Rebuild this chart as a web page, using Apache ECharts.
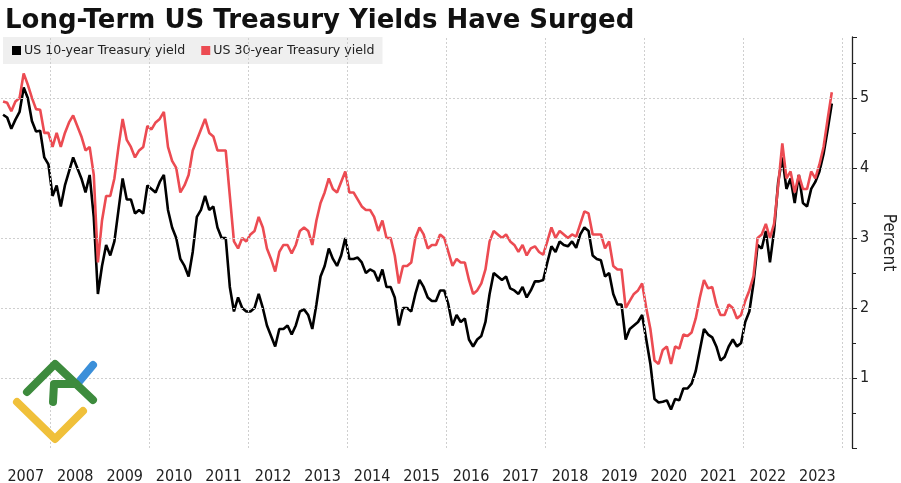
<!DOCTYPE html>
<html>
<head>
<meta charset="utf-8">
<script src="https://cdn.jsdelivr.net/npm/echarts@6/dist/echarts.min.js"></script>
<style>
html,body{margin:0;padding:0;background:#fff;overflow:hidden;}
#chart{width:901px;height:483px;}
</style>
</head>
<body>
<div id="chart"></div>
<script>
const START_YEAR = 2007;
// Monthly values, Jan 2007 - Oct 2023 (percent)
const yield10 = [
  4.76,4.72,4.56,4.69,4.80,5.15,5.00,4.67,4.52,4.53,4.15,4.05,
  3.60,3.75,3.45,3.75,3.95,4.15,4.00,3.85,3.65,3.90,3.30,2.20,
  2.60,2.90,2.75,2.95,3.40,3.85,3.55,3.55,3.35,3.40,3.35,3.75,
  3.70,3.65,3.80,3.90,3.40,3.15,3.00,2.70,2.60,2.45,2.80,3.30,
  3.40,3.60,3.40,3.45,3.15,3.00,3.00,2.30,1.95,2.15,2.00,1.95,
  1.95,2.00,2.20,2.00,1.75,1.60,1.45,1.70,1.70,1.75,1.62,1.75,
  1.95,1.98,1.90,1.70,2.05,2.45,2.60,2.85,2.70,2.60,2.75,3.00,
  2.70,2.70,2.72,2.65,2.50,2.55,2.52,2.38,2.55,2.30,2.30,2.15,
  1.75,2.00,2.00,1.95,2.20,2.40,2.30,2.15,2.10,2.10,2.25,2.25,
  2.05,1.75,1.90,1.80,1.85,1.55,1.45,1.55,1.60,1.80,2.20,2.50,
  2.45,2.40,2.45,2.28,2.25,2.20,2.30,2.15,2.25,2.38,2.38,2.40,
  2.65,2.88,2.80,2.95,2.90,2.88,2.95,2.86,3.05,3.15,3.10,2.75,
  2.70,2.68,2.45,2.50,2.20,2.05,2.05,1.55,1.70,1.75,1.80,1.90,
  1.55,1.20,0.70,0.65,0.66,0.68,0.55,0.70,0.68,0.85,0.85,0.92,
  1.10,1.40,1.70,1.62,1.58,1.45,1.25,1.30,1.45,1.55,1.45,1.50,
  1.80,1.95,2.35,2.90,2.85,3.10,2.65,3.10,3.80,4.15,3.70,3.85,
  3.50,3.90,3.50,3.45,3.70,3.80,3.95,4.20,4.55,4.92
];
const yield30 = [
  4.95,4.93,4.81,4.95,5.00,5.35,5.19,5.00,4.84,4.83,4.50,4.50,
  4.30,4.50,4.30,4.50,4.65,4.75,4.60,4.45,4.25,4.30,3.90,2.65,
  3.25,3.60,3.60,3.85,4.30,4.70,4.40,4.30,4.15,4.25,4.30,4.60,
  4.55,4.65,4.70,4.80,4.30,4.10,4.00,3.65,3.75,3.90,4.25,4.40,
  4.55,4.70,4.50,4.45,4.25,4.25,4.25,3.60,2.95,2.85,3.00,2.95,
  3.05,3.10,3.30,3.15,2.85,2.70,2.52,2.80,2.90,2.90,2.78,2.90,
  3.10,3.15,3.10,2.90,3.25,3.50,3.65,3.85,3.70,3.65,3.80,3.95,
  3.65,3.65,3.55,3.45,3.40,3.40,3.30,3.10,3.25,3.00,3.00,2.75,
  2.35,2.60,2.60,2.65,3.00,3.15,3.05,2.85,2.90,2.90,3.05,3.00,
  2.80,2.60,2.70,2.65,2.65,2.40,2.20,2.25,2.35,2.55,2.95,3.10,
  3.05,3.00,3.05,2.95,2.90,2.80,2.90,2.75,2.85,2.88,2.80,2.76,
  2.95,3.15,3.00,3.10,3.05,3.00,3.05,3.02,3.20,3.38,3.35,3.05,
  3.05,3.05,2.85,2.95,2.60,2.55,2.55,2.00,2.10,2.20,2.25,2.35,
  2.00,1.70,1.25,1.20,1.40,1.45,1.20,1.45,1.42,1.62,1.60,1.65,
  1.85,2.15,2.40,2.28,2.30,2.05,1.90,1.90,2.05,2.00,1.85,1.90,
  2.10,2.25,2.45,3.00,3.05,3.20,3.00,3.20,3.75,4.35,3.85,3.95,
  3.65,3.90,3.70,3.70,3.95,3.85,4.05,4.30,4.70,5.08
];
const yearLabels = [2007,2008,2009,2010,2011,2012,2013,2014,2015,2016,2017,2018,2019,2020,2021,2022,2023];
const gridYears = [2008,2010,2012,2014,2016,2018,2020,2022,2024];
const gridLevels = [1,2,3,4,5];
const seriesNames = ['US 10-year Treasury yield','US 30-year Treasury yield'];

function toPoints(arr){ return arr.map((v,i)=>[START_YEAR + (i+0.5)/12, v]); }

const FONT = 'DejaVu Sans';
const AXFONT = 'DejaVu Sans Condensed';
const chart = echarts.init(document.getElementById('chart'), null, {renderer:'canvas'});
const gridLineStyle = {color:'#cfcfcf', type:[2,2], width:1};
chart.setOption({
  animation:false,
  backgroundColor:'#fff',
  textStyle:{fontFamily:FONT},
  title:{
    text:'Long-Term US Treasury Yields Have Surged',
    left:0, top:3,
    textStyle:{fontFamily:FONT, fontWeight:'bold', fontSize:26, color:'#111'}
  },
  legend:{
    data:seriesNames,
    left:3, top:37,
    backgroundColor:'#efefef',
    padding:[7,8,7,9],
    itemWidth:9, itemHeight:9, itemGap:16,
    icon:'rect',
    textStyle:{fontFamily:FONT, fontSize:12.6, color:'#222', padding:[0,0,0,-2]}
  },
  grid:{left:1, right:49, top:37, bottom:35, containLabel:false, outerBoundsMode:'none'},
  xAxis:{
    type:'value', min:2007, max:2024.2, interval:0.5,
    axisLine:{show:false}, axisTick:{show:false}, splitLine:{show:false},
    axisLabel:{
      fontFamily:AXFONT, fontSize:16, color:'#222', margin:21,
      showMaxLabel:false,
      formatter:function(v){
        const y = Math.floor(v);
        return (Math.abs(v - y - 0.5) < 1e-6 && yearLabels.indexOf(y) >= 0) ? String(y) : '';
      }
    }
  },
  yAxis:{
    type:'value', position:'right', min:0, max:5.87, interval:1,
    axisLine:{show:true, lineStyle:{color:'#222', width:1.3}},
    axisTick:{show:true, length:5, lineStyle:{color:'#222'}},
    minorTick:{show:true, splitNumber:2, length:4, lineStyle:{color:'#222'}},
    splitLine:{show:false},
    axisLabel:{
      fontFamily:AXFONT, fontSize:16, color:'#222', margin:8,
      formatter:function(v){ return (Number.isInteger(v) && v > 0) ? String(v) : ''; }
    },
    name:'Percent', nameLocation:'middle', nameRotate:-90, nameGap:28,
    nameTextStyle:{fontFamily:AXFONT, fontSize:17, color:'#222'}
  },
  series:[
    {
      name:'grid', type:'line', data:[], z:0, silent:true,
      markLine:{
        silent:true, symbol:['none','none'], label:{show:false},
        lineStyle:gridLineStyle, animation:false,
        data: gridYears.map(y=>({xAxis:y})).concat(gridLevels.map(v=>({yAxis:v})))
      }
    },
    {
      name:seriesNames[0], type:'line', data:toPoints(yield10),
      showSymbol:false, symbol:'none', z:3,
      lineStyle:{color:'#000', width:2.6}, itemStyle:{color:'#000'}
    },
    {
      name:seriesNames[1], type:'line', data:toPoints(yield30),
      showSymbol:false, symbol:'none', z:4,
      lineStyle:{color:'#ec4b52', width:2.6}, itemStyle:{color:'#ec4b52'}
    }
  ],
  graphic:[
    {type:'polyline', z:100, shape:{points:[[17,402],[55,439],[83,411]]},
     style:{stroke:'#f0c03a', lineWidth:8, fill:null, lineCap:'round', lineJoin:'round'}},
    {type:'polyline', z:100, shape:{points:[[78,383],[93,365]]},
     style:{stroke:'#3b8fd9', lineWidth:8, fill:null, lineCap:'round'}},
    {type:'polyline', z:101, shape:{points:[[27,392],[55,364],[93,400]]},
     style:{stroke:'#3d8b3d', lineWidth:8, fill:null, lineCap:'round', lineJoin:'round'}},
    {type:'polyline', z:101, shape:{points:[[53,402],[54,384],[76,384]]},
     style:{stroke:'#3d8b3d', lineWidth:8, fill:null, lineCap:'round', lineJoin:'round'}}
  ]
});
</script>
</body>
</html>
